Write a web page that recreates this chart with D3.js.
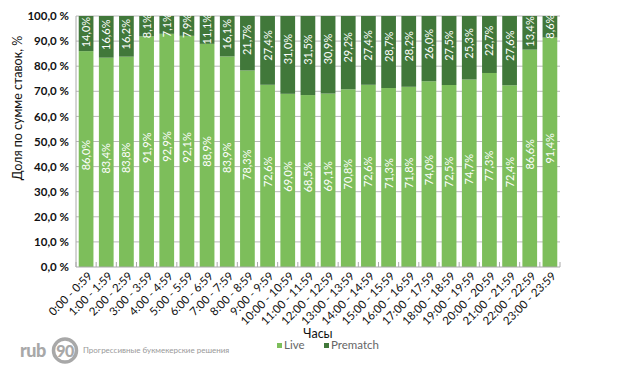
<!DOCTYPE html>
<html>
<head>
<meta charset="utf-8">
<script src="https://cdn.jsdelivr.net/npm/d3@7"></script>
<style>
  body { margin: 0; background: #fff; }
  text { font-family: Lato, "Open Sans", sans-serif; }
</style>
</head>
<body>
<div id="chart"></div>
<script>
// hours, shares of bet sum (Live / Prematch), %
var hours = ["0:00 - 0:59","1:00 - 1:59","2:00 - 2:59","3:00 - 3:59","4:00 - 4:59","5:00 - 5:59",
  "6:00 - 6:59","7:00 - 7:59","8:00 - 8:59","9:00 - 9:59","10:00 - 10:59","11:00 - 11:59",
  "12:00 - 12:59","13:00 - 13:59","14:00 - 14:59","15:00 - 15:59","16:00 - 16:59","17:00 - 17:59",
  "18:00 - 18:59","19:00 - 19:59","20:00 - 20:59","21:00 - 21:59","22:00 - 22:59","23:00 - 23:59"];
var live = [86.0,83.4,83.8,91.9,92.9,92.1,88.9,83.9,78.3,72.6,69.0,68.5,69.1,70.8,72.6,71.3,71.8,74.0,72.5,74.7,77.3,72.4,86.6,91.4];
var prematch = [14.0,16.6,16.2,8.1,7.1,7.9,11.1,16.1,21.7,27.4,31.0,31.5,30.9,29.2,27.4,28.7,28.2,26.0,27.5,25.3,22.7,27.6,13.4,8.6];
var yTicks = [0,10,20,30,40,50,60,70,80,90,100];

var W = 618, H = 370;
var margin = {top: 16, right: 58, bottom: 103, left: 76},
  width = W - margin.left - margin.right,
  height = H - margin.top - margin.bottom;

var liveColor = "#7dbe5b", preColor = "#41783a";
var fmt = function(v){ return v.toFixed(1).replace(".", ","); };

var root = d3.select("#chart").append("svg")
  .attr("width", W).attr("height", H);
var svg = root.append("g")
  .attr("transform", "translate(" + margin.left + "," + margin.top + ")");

var x = d3.scaleBand().domain(hours).range([0, width]).paddingInner(0.27).paddingOuter(0.135);
var y = d3.scaleLinear().domain([0, 100]).range([height, 0]);

// gridlines
svg.append("g")
  .selectAll("line").data(yTicks.slice(1)).enter().append("line")
    .attr("x1", 0).attr("x2", width)
    .attr("y1", function(d){ return y(d); }).attr("y2", function(d){ return y(d); })
    .style("stroke", "#b8b8b8").style("stroke-width", 1);

// y axis labels
svg.append("g")
  .call(d3.axisLeft(y).tickValues(yTicks).tickSize(0).tickPadding(7)
    .tickFormat(function(d){ return fmt(d) + " %"; }))
  .call(function(g){ g.select(".domain").remove(); })
  .selectAll("text")
    .style("font-size", "11.5px").style("font-weight", "bold").style("fill", "#111");

var rows = hours.map(function(h, i){ return {h: h, live: live[i], pre: prematch[i]}; });

// live bars
svg.selectAll(".live").data(rows).enter().append("rect")
  .attr("x", function(d){ return x(d.h); })
  .attr("width", x.bandwidth())
  .attr("y", function(d){ return y(d.live); })
  .attr("height", function(d){ return height - y(d.live); })
  .style("fill", liveColor);

// prematch bars
svg.selectAll(".pre").data(rows).enter().append("rect")
  .attr("x", function(d){ return x(d.h); })
  .attr("width", x.bandwidth())
  .attr("y", function(d){ return y(d.live + d.pre); })
  .attr("height", function(d){ return y(d.live) - y(d.live + d.pre); })
  .style("fill", preColor);

// value labels
svg.selectAll(".lbl-live").data(rows).enter().append("text")
  .attr("transform", function(d){
    var cy = (y(0) + y(d.live)) / 2 - 4;
    return "translate(" + (x(d.h) + x.bandwidth() / 2 + 4) + "," + cy + ") rotate(-90)";
  })
  .attr("text-anchor", "middle")
  .style("font-size", "11px").style("fill", "#fff")
  .text(function(d){ return fmt(d.live) + "%"; });

svg.selectAll(".lbl-pre").data(rows).enter().append("text")
  .attr("transform", function(d){
    var top = y(d.live + d.pre), len = y(d.live) - top;
    return "translate(" + (x(d.h) + x.bandwidth() / 2 + 4) + "," + (top + len * 0.4 + 2) + ") rotate(-90)";
  })
  .attr("text-anchor", "middle")
  .style("font-size", "11px").style("fill", "#fff")
  .text(function(d){ return fmt(d.pre) + "%"; });

// axis lines
svg.append("line").attr("x1", 0).attr("x2", 0).attr("y1", 0).attr("y2", height)
  .style("stroke", "#aaa");
svg.append("line").attr("x1", 0).attr("x2", width).attr("y1", height).attr("y2", height)
  .style("stroke", "#aaa");

// x axis: inward ticks between bars, rotated labels
var step = x.step();
svg.append("g").selectAll("line").data(d3.range(hours.length + 1)).enter().append("line")
  .attr("x1", function(i){ return x(hours[0]) - (step - x.bandwidth()) / 2 + i * step; })
  .attr("x2", function(i){ return x(hours[0]) - (step - x.bandwidth()) / 2 + i * step; })
  .attr("y1", height).attr("y2", height - 5)
  .style("stroke", "#aaa");

svg.append("g").selectAll("text").data(hours).enter().append("text")
  .attr("transform", function(d){
    return "translate(" + (x(d) + x.bandwidth() / 2 + 4) + "," + (height + 7) + ") rotate(-45)";
  })
  .attr("text-anchor", "end")
  .attr("dy", "0.35em")
  .style("font-size", "11.5px").style("fill", "#111")
  .text(function(d){ return d; });

// axis titles
root.append("text")
  .attr("transform", "translate(22," + (margin.top + 92) + ") rotate(-90)")
  .attr("text-anchor", "middle")
  .style("font-size", "12.5px").style("fill", "#111")
  .text("Доля по сумме ставок, %");

root.append("text")
  .attr("x", 318).attr("y", 338)
  .attr("text-anchor", "middle")
  .style("font-size", "12.5px").style("fill", "#111")
  .text("Часы");

// legend
var legend = root.append("g").attr("transform", "translate(277,349)");
[["Live", liveColor, 0], ["Prematch", preColor, 47]].forEach(function(it){
  legend.append("rect").attr("x", it[2]).attr("y", -6).attr("width", 5).attr("height", 5)
    .style("fill", it[1]);
  legend.append("text").attr("x", it[2] + 7).attr("y", 0)
    .style("font-size", "11.5px").style("fill", "#666").text(it[0]);
});

// logo
var logo = root.append("g").attr("transform", "translate(20,357)");
logo.append("text").attr("x", 0).attr("y", 0)
  .style("font-size", "18px").style("font-weight", "900").style("fill", "#a8a8a8")
  .style("letter-spacing", "-0.5px")
  .text("rub");
logo.append("circle").attr("cx", 45).attr("cy", -6.5).attr("r", 11.5)
  .style("fill", "none").style("stroke", "#a8a8a8").style("stroke-width", 3.5);
logo.append("text").attr("x", 45).attr("y", -0.5).attr("text-anchor", "middle")
  .style("font-size", "16px").style("font-weight", "900").style("fill", "#a8a8a8")
  .style("letter-spacing", "-0.5px")
  .text("90");
logo.append("text").attr("x", 63).attr("y", -4)
  .style("font-size", "8px").style("fill", "#999")
  .text("Прогрессивные букмекерские решения");
</script>
</body>
</html>
